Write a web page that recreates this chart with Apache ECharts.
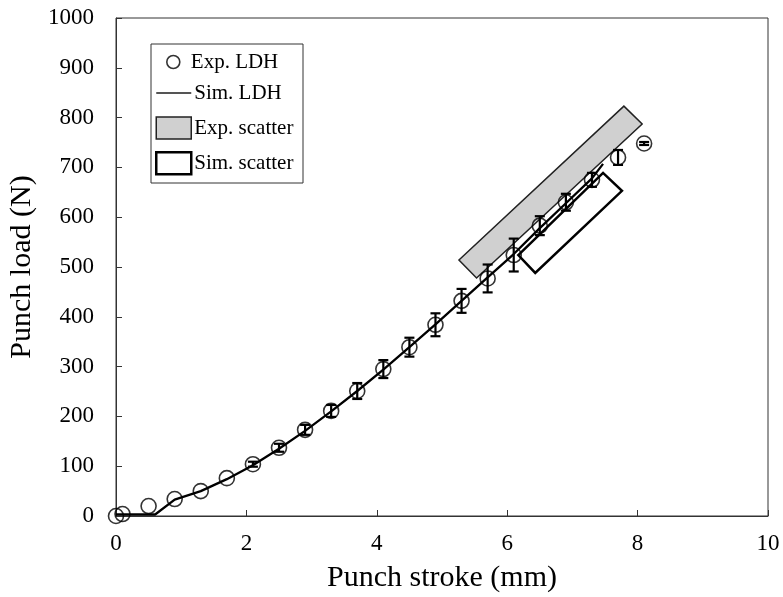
<!DOCTYPE html>
<html>
<head>
<meta charset="utf-8">
<script src="https://cdn.jsdelivr.net/npm/echarts@6/dist/echarts.min.js"></script>
<style>
  html, body { margin: 0; padding: 0; background: #fff; }
  #chart { width: 783px; height: 597px; }
</style>
</head>
<body>
<div id="chart"></div>
<script>
// Experimental LDH: punch stroke (mm), punch load (N) and error half-width (N)
const expStroke = [0, 0.1, 0.5, 0.9, 1.3, 1.7, 2.1, 2.5, 2.9, 3.3, 3.7, 4.1, 4.5, 4.9, 5.3, 5.7, 6.1, 6.5, 6.9, 7.3, 7.7, 8.1];
const expLoad   = [0, 4, 20, 34, 50, 76, 104, 137, 173, 211, 251, 295, 339, 384, 432, 477, 524, 583, 630, 675, 720, 748];
const expErr    = [0, 0, 0, 0, 0, 0, 5, 8, 10, 12, 16, 18, 19, 23, 24, 28, 33, 19, 17, 14, 15, 3];

// Simulated LDH curve
const simStroke = [0, 0.6, 0.9, 1.3, 1.7, 2.1, 2.5, 2.9, 3.3, 3.7, 4.1, 4.5, 4.9, 5.3, 5.7, 6.1, 6.5, 6.9, 7.3, 7.47];
const simLoad   = [3, 3, 33, 50, 74, 102, 135, 171, 210, 251, 294, 339, 385, 432, 479, 526, 578, 628, 678, 707];

// Scatter bands: corner points (stroke, load) of each band
const expScatterStroke = [5.26, 7.79, 8.07, 5.53];
const expScatterLoad   = [514, 823, 787, 478];
const simScatterStroke = [6.17, 7.47, 7.76, 6.43];
const simScatterLoad   = [524, 689, 653, 488];

// Axis ticks
const xTicks = [0, 2, 4, 6, 8, 10];
const yTicks = [0, 100, 200, 300, 400, 500, 600, 700, 800, 900, 1000];

const FONT = 'Liberation Serif';

const expPoints = expStroke.map((x, i) => [x, expLoad[i]]);
const errData = expStroke
  .map((x, i) => [x, expLoad[i] - expErr[i], expLoad[i] + expErr[i], expErr[i]])
  .filter(d => d[3] > 0);
const simPoints = simStroke.map((x, i) => [x, simLoad[i]]);

function bandData(xs, ys) {
  const flat = [];
  xs.forEach((x, i) => { flat.push(x, ys[i]); });
  return [flat];
}

function bandRenderer(fill, stroke, lw) {
  return function (params, api) {
    const pts = [];
    for (let i = 0; i < 4; i++) {
      pts.push(api.coord([api.value(2 * i), api.value(2 * i + 1)]));
    }
    return {
      type: 'polygon',
      shape: { points: pts },
      style: { fill: fill, stroke: stroke, lineWidth: lw }
    };
  };
}

const chart = echarts.init(document.getElementById('chart'), null, { renderer: 'canvas' });

chart.setOption({
  backgroundColor: '#fff',
  animation: false,
  textStyle: { fontFamily: FONT },
  grid: {
    left: 116, top: 18, right: 15, bottom: 81,
    containLabel: false,
    outerBoundsMode: 'none',
    show: true, borderColor: '#333', borderWidth: 1
  },
  xAxis: {
    type: 'value',
    min: xTicks[0], max: xTicks[xTicks.length - 1], interval: 2,
    name: 'Punch stroke (mm)',
    nameLocation: 'middle',
    nameGap: 47,
    nameTextStyle: { fontFamily: FONT, fontSize: 30, color: '#000' },
    axisLine: { lineStyle: { color: '#333', width: 1 } },
    axisTick: { inside: true, length: 6, lineStyle: { color: '#333' } },
    axisLabel: { fontFamily: FONT, fontSize: 23, color: '#000', margin: 16 },
    splitLine: { show: false }
  },
  yAxis: {
    type: 'value',
    min: yTicks[0], max: yTicks[yTicks.length - 1], interval: 100,
    name: 'Punch load (N)',
    nameLocation: 'middle',
    nameGap: 54,
    nameTextStyle: { fontFamily: FONT, fontSize: 30, color: '#000' },
    axisLine: { show: true, lineStyle: { color: '#333', width: 1 } },
    axisTick: { show: true, inside: true, length: 6, lineStyle: { color: '#333' } },
    axisLabel: {
      fontFamily: FONT, fontSize: 23, color: '#000', margin: 22,
      formatter: v => String(v)
    },
    splitLine: { show: false }
  },
  legend: [
    {
      left: 166, top: 50, padding: 0,
      itemWidth: 13, itemHeight: 13,
      textStyle: { fontFamily: FONT, fontSize: 21, color: '#000', lineHeight: 24, padding: [0, 0, 0, 6] },
      data: [{
        name: 'Exp. LDH', icon: 'circle',
        itemStyle: { color: 'transparent', borderColor: '#000', borderWidth: 1.6 }
      }]
    },
    {
      left: 155, top: 81, padding: 0, orient: 'vertical',
      itemWidth: 35, itemHeight: 22, itemGap: 11,
      textStyle: { fontFamily: FONT, fontSize: 21, color: '#000', lineHeight: 24, padding: [0, 0, 0, -2] },
      data: [
        {
          name: 'Sim. LDH', icon: 'path://M0,10L36,10L36,12L0,12Z',
          itemStyle: { color: '#555', borderWidth: 0 }
        },
        { name: 'Exp. scatter', icon: 'rect', itemStyle: { color: '#d0d0d0', borderColor: '#222', borderWidth: 1.5 } },
        { name: 'Sim. scatter', icon: 'rect', itemStyle: { color: '#fff', borderColor: '#000', borderWidth: 2.5 } }
      ]
    }
  ],
  graphic: [{
    type: 'rect',
    shape: { x: 151, y: 44, width: 152, height: 139 },
    style: { fill: 'none', stroke: '#333', lineWidth: 1 },
    z: 0
  }],
  series: [
    {
      name: 'Exp. scatter',
      type: 'custom',
      renderItem: bandRenderer('#d0d0d0', '#222', 1.5),
      itemStyle: { color: '#d0d0d0', borderColor: '#222', borderWidth: 1.5 },
      data: bandData(expScatterStroke, expScatterLoad),
      encode: { x: [0, 2, 4, 6], y: [1, 3, 5, 7] },
      z: 1
    },
    {
      name: 'Sim. scatter',
      type: 'custom',
      renderItem: bandRenderer('rgba(255,255,255,0)', '#000', 2.5),
      itemStyle: { color: '#fff', borderColor: '#000', borderWidth: 2.5 },
      data: bandData(simScatterStroke, simScatterLoad),
      encode: { x: [0, 2, 4, 6], y: [1, 3, 5, 7] },
      z: 2
    },
    {
      name: 'Sim. LDH',
      type: 'line',
      data: simPoints,
      showSymbol: false,
      symbol: 'none',
      lineStyle: { color: '#000', width: 2.3 },
      itemStyle: { color: '#000' },
      z: 3
    },
    {
      name: 'Exp. LDH error',
      type: 'custom',
      data: errData,
      encode: { x: 0, y: [1, 2] },
      renderItem: function (params, api) {
        const x = api.value(0);
        const lo = api.coord([x, api.value(1)]);
        const hi = api.coord([x, api.value(2)]);
        const half = 5;
        const st = { stroke: '#000', lineWidth: 2.2 };
        return {
          type: 'group',
          children: [
            { type: 'line', shape: { x1: lo[0], y1: lo[1], x2: hi[0], y2: hi[1] }, style: st },
            { type: 'line', shape: { x1: lo[0] - half, y1: lo[1], x2: lo[0] + half, y2: lo[1] }, style: st },
            { type: 'line', shape: { x1: hi[0] - half, y1: hi[1], x2: hi[0] + half, y2: hi[1] }, style: st }
          ]
        };
      },
      z: 4
    },
    {
      name: 'Exp. LDH',
      type: 'scatter',
      data: expPoints,
      symbol: 'circle',
      symbolSize: 15,
      itemStyle: { color: 'transparent', borderColor: '#000', borderWidth: 1.6 },
      z: 5
    }
  ]
});
</script>
</body>
</html>
